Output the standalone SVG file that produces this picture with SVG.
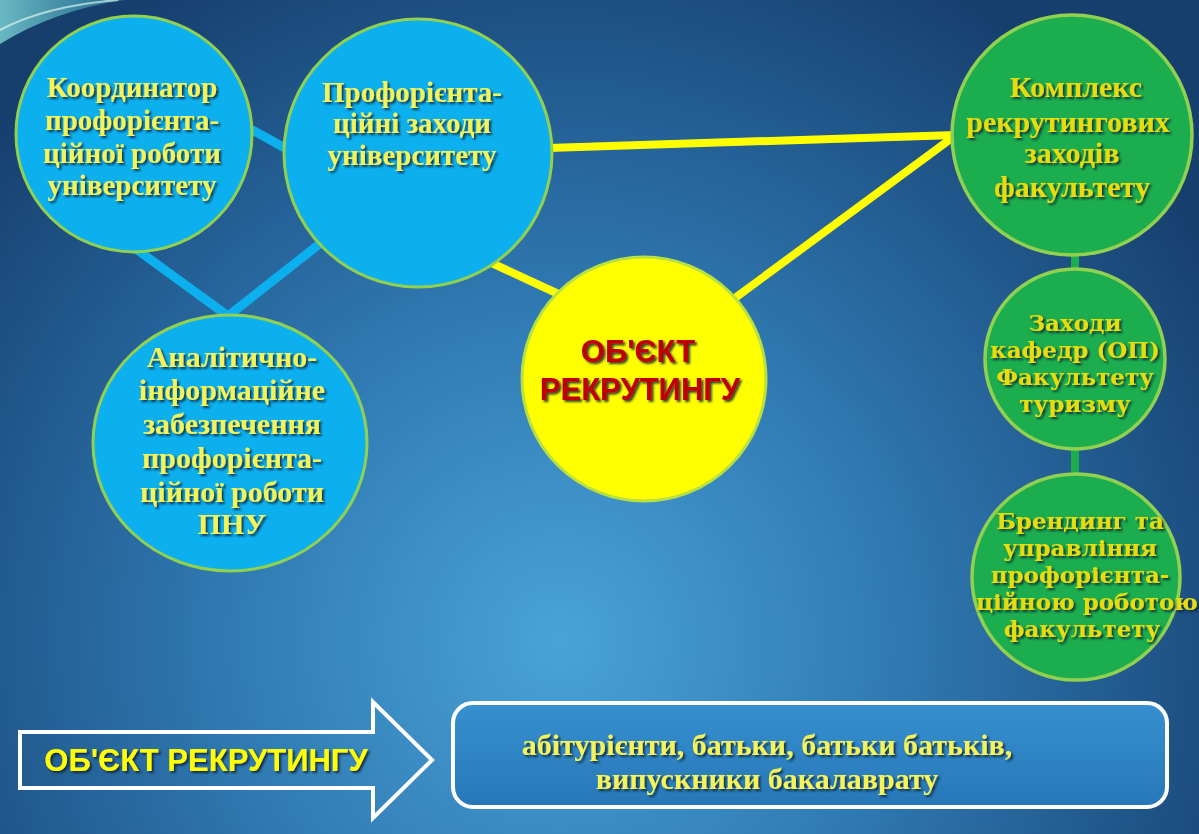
<svg xmlns="http://www.w3.org/2000/svg" width="1199" height="834" viewBox="0 0 1199 834">
<defs>
<radialGradient id="bg" cx="560" cy="640" r="760" gradientUnits="userSpaceOnUse">
<stop offset="0" stop-color="#4aa3d8"/>
<stop offset="0.45" stop-color="#2f79b2"/>
<stop offset="1" stop-color="#163f6e"/>
</radialGradient>
<linearGradient id="sw" x1="0" y1="0" x2="1" y2="0">
<stop offset="0" stop-color="#7fd6d8"/>
<stop offset="1" stop-color="#3a9fb5" stop-opacity="0.6"/>
</linearGradient>
<linearGradient id="boxfill" x1="0" y1="0" x2="0" y2="1">
<stop offset="0" stop-color="#3790cf"/>
<stop offset="1" stop-color="#2677b8"/>
</linearGradient>
<filter id="sh" x="-10%" y="-20%" width="130%" height="150%">
<feDropShadow dx="2" dy="2" stdDeviation="1" flood-color="#102030" flood-opacity="0.85"/>
</filter>
<style>
.bc{fill:#0db0ef;stroke:#92d050;stroke-width:3}
.gc{fill:#1cad4e;stroke:#92d050;stroke-width:3.5}
.yc{fill:#ffff00;stroke:#b8e040;stroke-width:3}
.ser{font-family:"Liberation Serif","Times New Roman",serif;font-weight:bold;text-anchor:middle;filter:url(#sh)}
.tb{fill:#f4f45a;font-size:29px}
.tb30{fill:#f4f45a;font-size:30px}
.tg{fill:#e8dc10;font-size:30px}
.ts{fill:#e8dc10;font-size:23px;font-family:"DejaVu Serif",serif}
.sans{font-family:"Liberation Sans",Arial,sans-serif;font-weight:bold;text-anchor:middle;filter:url(#sh)}
.lb{stroke:#0db0ef;stroke-width:9;fill:none}
.ly{stroke:#ffff00;stroke-width:8;fill:none}
.lg{stroke:#1cad4e;stroke-width:8;fill:none}
</style>
</defs>
<rect x="0" y="0" width="1199" height="834" fill="url(#bg)"/>
<path d="M0,0 L125,0 Q55,10 0,44 Z" fill="url(#sw)" opacity="0.8"/>
<path d="M0,30 Q45,6 118,0" stroke="#d8f4f0" stroke-width="2" fill="none" opacity="0.7"/>

<g id="connectors">
<line class="lb" x1="245" y1="126" x2="292" y2="152"/>
<polyline class="lb" points="132,246 228,316 322,242" stroke-linejoin="miter"/>
<line class="ly" x1="470" y1="253" x2="565" y2="297"/>
<line class="ly" x1="548" y1="148" x2="956" y2="135"/>
<line class="ly" x1="735" y1="298" x2="956" y2="135"/>
<line class="lg" x1="1075" y1="250" x2="1075" y2="275"/>
<line class="lg" x1="1075" y1="445" x2="1075" y2="480"/>
</g>

<g id="koordynator">
<circle class="bc" cx="134" cy="134" r="118"/>
<text class="ser tb" x="132" y="97">Координатор</text>
<text class="ser tb" x="132" y="130">профорієнта-</text>
<text class="ser tb" x="132" y="163">ційної роботи</text>
<text class="ser tb" x="132" y="195">університету</text>
</g>

<g id="proforientatsiini">
<circle class="bc" cx="418" cy="153" r="134"/>
<text class="ser tb" x="412" y="102">Профорієнта-</text>
<text class="ser tb" x="412" y="133">ційні заходи</text>
<text class="ser tb" x="412" y="165">університету</text>
</g>

<g id="analitychno">
<ellipse class="bc" cx="230" cy="443" rx="137" ry="128"/>
<text class="ser tb30" x="232" y="367">Аналітично-</text>
<text class="ser tb30" x="232" y="400">інформаційне</text>
<text class="ser tb30" x="232" y="434">забезпечення</text>
<text class="ser tb30" x="232" y="468">профорієнта-</text>
<text class="ser tb30" x="232" y="502">ційної роботи</text>
<text class="ser tb30" x="232" y="534">ПНУ</text>
</g>

<g id="obiekt">
<circle class="yc" cx="644" cy="379" r="122"/>
<text class="sans" x="638" y="362" font-size="31" fill="#c00000">ОБ'ЄКТ</text>
<text class="sans" x="640" y="400" font-size="31" fill="#c00000">РЕКРУТИНГУ</text>
</g>

<g id="kompleks">
<circle class="gc" cx="1072" cy="135" r="120"/>
<text class="ser tg" x="1076" y="97">Комплекс</text>
<text class="ser tg" x="1068" y="132">рекрутингових</text>
<text class="ser tg" x="1072" y="163">заходів</text>
<text class="ser tg" x="1072" y="197">факультету</text>
</g>

<g id="zakhody">
<circle class="gc" cx="1075" cy="359" r="90"/>
<text class="ser ts" x="1075" y="331">Заходи</text>
<text class="ser ts" x="1075" y="358">кафедр (ОП)</text>
<text class="ser ts" x="1075" y="385">Факультету</text>
<text class="ser ts" x="1075" y="412">туризму</text>
</g>

<g id="brendynh">
<ellipse class="gc" cx="1076" cy="577" rx="104" ry="103"/>
<text class="ser ts" x="1080" y="529">Брендинг та</text>
<text class="ser ts" x="1080" y="556">управління</text>
<text class="ser ts" x="1080" y="583">профорієнта-</text>
<text class="ser ts" x="1087" y="610">ційною роботою</text>
<text class="ser ts" x="1082" y="637">факультету</text>
</g>

<g id="arrow">
<path d="M20,732 L373,732 L373,702 L432,760 L373,818 L373,788 L20,788 Z" fill="none" stroke="#ffffff" stroke-width="4" stroke-linejoin="miter"/>
<text class="sans" x="206" y="771" font-size="31" fill="#ffff00">ОБ'ЄКТ РЕКРУТИНГУ</text>
</g>

<g id="audience">
<rect x="453" y="703" width="714" height="104" rx="20" ry="20" fill="url(#boxfill)" stroke="#ffffff" stroke-width="4"/>
<text class="ser tb30" x="767" y="755">абітурієнти, батьки, батьки батьків,</text>
<text class="ser tb30" x="767" y="789">випускники бакалаврату</text>
</g>
</svg>
